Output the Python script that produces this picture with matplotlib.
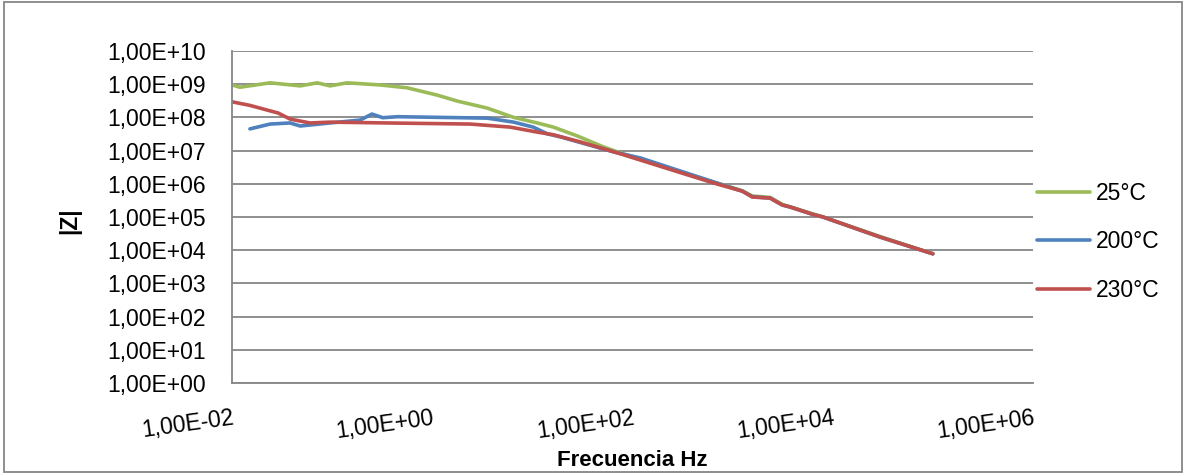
import math
import matplotlib
matplotlib.use("Agg")
import matplotlib.pyplot as plt
from matplotlib.ticker import FixedLocator, FuncFormatter, NullLocator
from matplotlib.patches import Rectangle

plt.rcParams['font.family'] = ['Liberation Sans', 'DejaVu Sans']

# |Z| vs frequency
freq_25 = [0.010, 0.012, 0.024, 0.048, 0.071, 0.095, 0.141, 0.30, 0.56, 1.12, 1.78,
           3.55, 6.5, 11.2, 16.2, 28.2, 51, 71, 126, 700, 1250, 1570, 2370, 3130,
           6300, 8000, 2.95e4, 1.0e5]
z_25 = [9.5e8, 8.1e8, 1.1e9, 8.9e8, 1.1e9, 8.9e8, 1.1e9, 9.5e8, 7.8e8, 4.7e8, 3.1e8,
        1.9e8, 1.0e8, 6.8e7, 5.1e7, 2.75e7, 1.3e7, 9.1e6, 5.2e6, 1.05e6, 6.2e5, 4.3e5,
        3.9e5, 2.4e5, 1.25e5, 1.0e5, 2.6e4, 7.8e3]

freq_200 = [0.0151, 0.024, 0.038, 0.048, 0.095, 0.19, 0.25, 0.32, 0.45, 3.55, 6.5,
            10.2, 14.1, 19.0, 65, 120, 700, 1250, 1570, 2370, 3130, 3760, 6300, 8000,
            2.95e4, 1.0e5]
z_200 = [4.5e7, 6.3e7, 6.8e7, 5.5e7, 6.8e7, 8.3e7, 1.26e8, 9.8e7, 1.05e8, 9.5e7, 7.2e7,
         5.1e7, 3.2e7, 2.6e7, 9.1e6, 6.0e6, 1.05e6, 6.0e5, 4.1e5, 3.7e5, 2.3e5, 2.0e5,
         1.2e5, 1.0e5, 2.5e4, 7.8e3]

freq_230 = [0.010, 0.0151, 0.029, 0.038, 0.060, 0.095, 0.35, 2.4, 6.0, 11.2, 16.2,
            30.2, 71, 650, 1250, 1570, 2370, 3130, 3760, 6300, 8000, 2.95e4, 1.0e5]
z_230 = [2.95e8, 2.3e8, 1.35e8, 8.9e7, 6.8e7, 7.2e7, 6.8e7, 6.3e7, 5.1e7, 3.6e7, 3.0e7,
         1.82e7, 8.5e6, 1.05e6, 6.0e5, 4.0e5, 3.7e5, 2.3e5, 2.0e5, 1.2e5, 1.0e5, 2.5e4,
         7.8e3]

series = [("25°C", freq_25, z_25, "#9BBB59"),
          ("200°C", freq_200, z_200, "#4F81BD"),
          ("230°C", freq_230, z_230, "#C0504D")]

x_ticks = [1e-2, 1e0, 1e2, 1e4, 1e6]
y_ticks = [10.0 ** e for e in range(0, 11)]

fig = plt.figure(figsize=(11.86, 4.76), dpi=100)
ax = fig.add_axes([232 / 1186, 1 - 383 / 476, 801 / 1186, 332 / 476])

for name, f, z, c in series:
    ax.plot(f, z, color=c, lw=2.6, label=name, solid_joinstyle='round',
            solid_capstyle='round')

ax.set_xscale('log')
ax.set_yscale('log')
ax.set_xlim(1e-2, 1e6)
ax.set_ylim(1e0, 1e10)

sci = FuncFormatter(lambda v, p: "1,00E%+03d" % round(math.log10(v)))
ax.xaxis.set_major_locator(FixedLocator(x_ticks))
ax.yaxis.set_major_locator(FixedLocator(y_ticks))
ax.xaxis.set_minor_locator(NullLocator())
ax.yaxis.set_minor_locator(NullLocator())
ax.xaxis.set_major_formatter(sci)
ax.yaxis.set_major_formatter(sci)

ax.grid(axis='y', color='#868686', lw=1.3)
ax.set_axisbelow(True)
for s in ['top', 'right']:
    ax.spines[s].set_visible(False)
for s in ['left', 'bottom']:
    ax.spines[s].set_color('#868686')
    ax.spines[s].set_linewidth(1.3)

ax.tick_params(axis='y', length=0, labelsize=16.5, pad=19)
ax.tick_params(axis='x', length=0, labelsize=16.5, pad=17)
for lab in ax.get_xticklabels():
    lab.set_rotation(8)
    lab.set_ha('right')
    lab.set_rotation_mode('anchor')

fig.text(632 / 1186, 1 - 460 / 476, "Frecuencia Hz", fontsize=16, fontweight='bold',
         ha='center', va='center')
fig.text(70 / 1186, 1 - 221 / 476, "|Z|", fontsize=16.5, fontweight='bold',
         ha='center', va='center', rotation=90)

ax.legend(loc='center left', bbox_to_anchor=(1.0 + 4 / 801, 0.425), frameon=False,
          fontsize=16.5, handlelength=2.3, labelspacing=1.1, handletextpad=0.26,
          borderaxespad=0, borderpad=0)

fig.patches.append(Rectangle((0.003, 0.008), 0.994, 0.987, transform=fig.transFigure,
                             fill=False, edgecolor='#868686', lw=1.3))

fig.savefig("out.png", dpi=100)
